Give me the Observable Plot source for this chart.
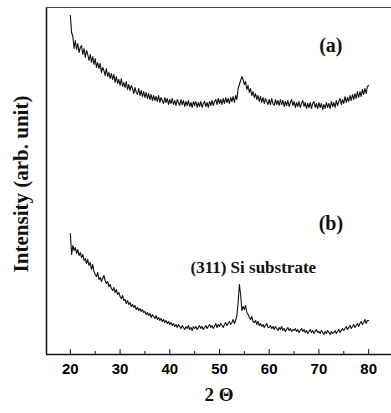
<!DOCTYPE html>
<html><head><meta charset="utf-8">
<script src="https://cdn.jsdelivr.net/npm/d3@7"></script>
<script src="https://cdn.jsdelivr.net/npm/@observablehq/plot@0.6"></script>
<style>body{margin:0;background:#fff}</style>
</head><body><div id="chart"></div>
<script>
// 2θ sampling grid (degrees), 20 to 80 every 0.25
const twoTheta = d3.range(20, 80.001, 0.25);
// Curve (a) intensity, arb. units, rows of 5 degrees
const intensityA = [
339,322,318,306,314,305,311,302,307,309,300,306,297,304,300,294,300,292,298,290,
296,287,292,286,291,282,287,284,279,286,278,282,276,281,275,280,272,278,271,275,
269,276,268,272,267,273,265,270,264,269,266,261,267,262,260,266,259,264,258,263,
257,262,256,261,255,260,254,259,254,258,253,259,252,257,254,251,257,252,256,250,
255,251,256,250,254,249,255,252,249,255,250,254,248,253,249,254,248,252,247,253,
249,253,247,252,248,253,247,251,253,248,252,247,253,249,254,249,253,255,250,256,
251,255,250,256,251,257,252,256,251,257,253,258,252,259,255,266,270,274,278,275,
270,273,265,269,262,266,259,263,257,261,255,259,253,258,252,257,251,256,253,250,
255,250,256,251,249,255,250,254,249,255,250,254,248,253,249,254,248,252,255,249,
253,247,252,248,253,247,251,254,248,252,246,251,247,252,246,251,253,247,251,246,
252,247,251,245,250,246,252,247,251,246,253,248,252,247,254,249,253,256,250,255,
251,258,252,257,253,259,254,260,255,261,256,263,257,263,258,265,260,266,261,268,
269];
// Curve (b) intensity, arb. units
const intensityB = [
121,100,109,104,107,101,105,99,102,97,100,94,96,91,95,89,92,85,90,83,
80,78,82,75,77,73,76,79,74,71,73,68,70,66,64,67,62,65,60,62,
58,56,59,54,55,51,54,50,52,48,50,47,49,45,47,44,46,43,45,42,
43,40,42,39,41,37,40,38,36,39,35,37,34,36,33,35,32,34,31,33,
30,32,29,31,28,30,27,30,28,26,29,27,25,28,26,29,25,27,24,28,
26,28,25,27,29,26,28,25,27,29,26,28,30,27,29,26,28,31,27,30,
28,31,29,27,30,32,29,31,33,30,32,35,31,34,39,52,70,60,44,48,
45,49,42,40,37,35,38,33,32,34,30,33,29,31,28,30,27,29,31,27,
27,29,26,28,25,28,26,24,27,25,28,24,26,23,25,27,24,26,23,25,
24,26,23,25,22,24,26,23,25,22,24,21,23,25,22,24,21,23,25,22,
23,21,24,22,20,23,21,24,22,20,23,21,22,24,21,23,25,22,24,26,
24,26,28,25,27,29,26,28,30,27,29,31,28,31,33,30,32,35,31,34,
34];
const majorTicks = [20, 30, 40, 50, 60, 70, 80];
const minorTicks = [25, 35, 45, 55, 65, 75];
const xDomain = [15.2, 84.6];
const yDomain = [0, 347];
const annotations = [
  {x: 72.4, y: 309, text: "(a)", size: 20},
  {x: 72.4, y: 131, text: "(b)", size: 20},
  {x: 56.8, y: 87, text: "(311) Si substrate", size: 17}
];

const dataA = twoTheta.map((t, i) => ({t, v: intensityA[i]}));
const dataB = twoTheta.map((t, i) => ({t, v: intensityB[i]}));
const serif = "'Liberation Serif', 'Times New Roman', serif";

const chart = Plot.plot({
  width: 391,
  height: 413,
  marginLeft: 46,
  marginRight: 0,
  marginTop: 7,
  marginBottom: 59,
  x: {domain: xDomain},
  y: {domain: yDomain, axis: null},
  marks: [
    Plot.ruleX([xDomain[0]], {stroke: "#111", strokeWidth: 1.5}),
    Plot.ruleY([yDomain[0]], {stroke: "#111", strokeWidth: 1.3}),
    Plot.ruleY([yDomain[1]], {stroke: "#444", strokeWidth: 1}),
    Plot.ruleX(majorTicks, {x: d => d, y1: 0, y2: 5, stroke: "#111"}),
    Plot.ruleX(minorTicks, {x: d => d, y1: 0, y2: 3, stroke: "#111"}),
    Plot.axisX({ticks: majorTicks, tickSize: 0, tickPadding: 9, fontSize: 15, fontWeight: "bold",
      fontFamily: "'Liberation Sans', Arial, sans-serif", label: null, tickFormat: d => String(d)}),
    Plot.line(dataA, {x: "t", y: "v", stroke: "#111", strokeWidth: 1.1}),
    Plot.line(dataB, {x: "t", y: "v", stroke: "#111", strokeWidth: 1.1}),
    Plot.text(annotations, {x: "x", y: "y", text: "text", fontSize: d => d.size, fontWeight: "bold",
      fontFamily: serif, fill: "#111"}),
    Plot.text(["2 Θ"], {frameAnchor: "bottom", dy: 46, fontSize: 19, fontWeight: "bold",
      fontFamily: serif, fill: "#111"}),
    Plot.text(["Intensity (arb. unit)"], {frameAnchor: "left", textAnchor: "middle", dx: -25, dy: 3, rotate: -90,
      fontSize: 21, fontWeight: "bold", fontFamily: serif, fill: "#111"})
  ]
});
document.getElementById("chart").appendChild(chart);
</script>
</body></html>
